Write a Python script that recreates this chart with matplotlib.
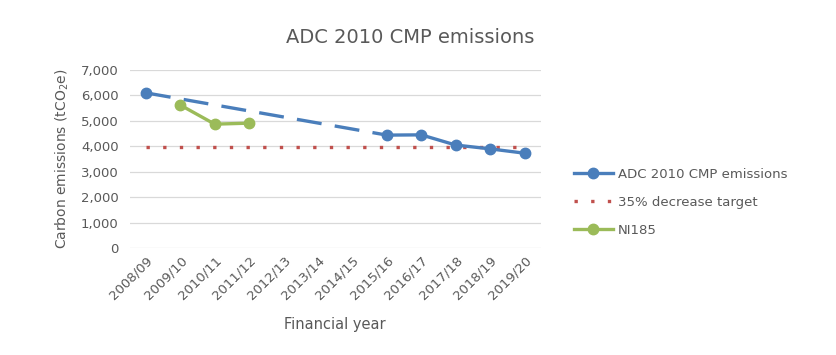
import numpy as np
import matplotlib
matplotlib.use("Agg")
import matplotlib.pyplot as plt

years = ["2008/09", "2009/10", "2010/11", "2011/12", "2012/13", "2013/14",
         "2014/15", "2015/16", "2016/17", "2017/18", "2018/19", "2019/20"]
adc = [6100, None, None, None, None, None, None, 4440, 4450, 4050, 3900, 3730]
target = [3965] * 12
ni185 = [None, 5620, 4870, 4910, None, None, None, None, None, None, None, None]
yticks = [0, 1000, 2000, 3000, 4000, 5000, 6000, 7000]

BLUE = "#4A7EBB"
RED = "#C0504D"
GREEN = "#9BBB59"
GREY = "#595959"

adc_arr = np.array([np.nan if v is None else v for v in adc], dtype=float)
ni_arr = np.array([np.nan if v is None else v for v in ni185], dtype=float)
x = np.arange(len(years))

fig = plt.figure(figsize=(8.37, 3.55), dpi=100)
ax = fig.add_axes([0.155, 0.301, 0.491, 0.502])

# dashed link across the years with no data
known = np.where(~np.isnan(adc_arr))[0]
gap_idx = [known[0], known[1]]
ax.plot(x[gap_idx], adc_arr[gap_idx], color=BLUE, lw=2.4, dashes=(7.5, 4),
        dash_capstyle="butt", zorder=3)

ax.plot(x, target, color=RED, lw=2.4, dashes=(1, 4), dash_capstyle="butt",
        label="35% decrease target", zorder=2)
ax.plot(x, adc_arr, color=BLUE, lw=2.4, marker="o", ms=7.5,
        label="ADC 2010 CMP emissions", zorder=4)
ax.plot(x, ni_arr, color=GREEN, lw=2.4, marker="o", ms=7.5,
        label="NI185", zorder=4)

ax.set_xlim(-0.47, 11.47)
ax.set_ylim(0, 7000)
ax.set_yticks(yticks)
ax.set_yticklabels([f"{v:,}" for v in yticks])
ax.set_xticks(x)
ax.set_xticklabels(years, rotation=45, ha="right", rotation_mode="anchor")
ax.tick_params(length=0, colors=GREY, labelsize=9.5, pad=8)
ax.tick_params(axis="x", pad=4)
ax.grid(axis="y", color="#D9D9D9", lw=0.9)
ax.set_axisbelow(True)
for s in ax.spines.values():
    s.set_visible(False)

ax.set_ylabel("Carbon emissions (tCO$_2$e)", color=GREY, fontsize=10, labelpad=7)
ax.set_xlabel("Financial year", color=GREY, fontsize=10.5, labelpad=11)
fig.text(0.49, 0.895, "ADC 2010 CMP emissions", ha="center", va="center",
         color=GREY, fontsize=14)

h, l = ax.get_legend_handles_labels()
order = [1, 0, 2]
leg = fig.legend([h[i] for i in order], [l[i] for i in order],
                 loc="center left", bbox_to_anchor=(0.672, 0.43), frameon=False,
                 fontsize=9.5, handlelength=2.9, labelspacing=1.15, handletextpad=0.4)
for t in leg.get_texts():
    t.set_color(GREY)

fig.savefig("out.png", dpi=100)
